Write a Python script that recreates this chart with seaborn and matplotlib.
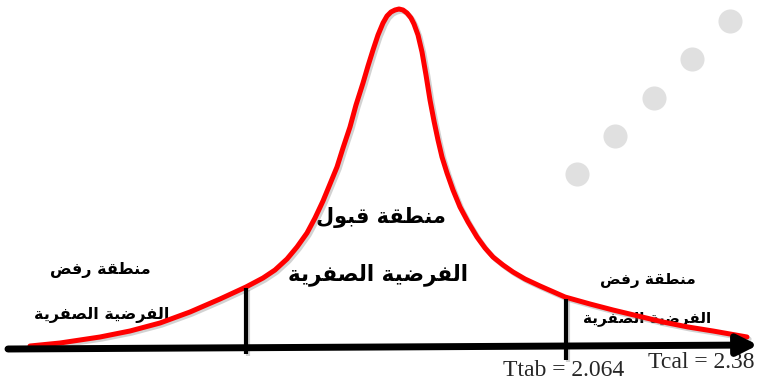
"""
Acceptance / rejection regions of a t-test drawn on a bell curve.
"""

import matplotlib

matplotlib.use("Agg")

import matplotlib.patheffects as pe
import matplotlib.pyplot as plt
import pandas as pd
import seaborn as sns


# ---------------------------------------------------------------------------
# Data (canvas units: x to the right, y upwards, 760 x 385)
# ---------------------------------------------------------------------------

curve_x = [30, 60, 100, 130, 160, 190, 220, 246, 263, 275, 287, 297, 307,
           315, 323, 330, 337, 343, 350, 356, 363, 368, 373, 378, 383, 387,
           391, 395, 399, 403, 407, 411, 414, 418, 422, 426, 430, 434, 438,
           442, 447, 453, 460, 468, 477, 485, 493, 503, 513, 525, 540, 565,
           590, 613, 638, 663, 688, 713, 747]
curve_y = [39, 42, 48, 54, 62, 73, 86, 98, 107, 115, 126, 138, 152,
           167, 184, 201, 218, 237, 258, 280, 302, 319, 335, 350, 362, 369,
           373, 375, 376, 375, 372, 367, 361, 350, 333, 310, 285, 264, 245,
           228, 212, 195, 178, 163, 148, 137, 128, 120, 113, 106, 99, 88,
           81, 75, 69, 63, 58, 54, 48]

axis_start = (8, 36)
axis_end = (758, 40)

ttab_x = 246
ttab_span = (31, 97)
tcal_x = 566
tcal_span = (25, 86)

ttab_label = "Ttab = 2.064"
tcal_label = "Tcal = 2.38"

accept_lines = ["منطقة قبول", "الفرضية الصفرية"]
reject_lines = ["منطقة رفض", "الفرضية الصفرية"]

watermark_x = [577, 615, 654, 692, 730]
watermark_y = [211, 249, 287, 326, 364]


# ---------------------------------------------------------------------------
# Minimal Arabic shaping (presentation forms, right-to-left)
# ---------------------------------------------------------------------------

# isolated, final, initial, medial
ARABIC_FORMS = {
    "ا": ("\uFE8D", "\uFE8E", None, None),
    "ب": ("\uFE8F", "\uFE90", "\uFE91", "\uFE92"),
    "ة": ("\uFE93", "\uFE94", None, None),
    "ر": ("\uFEAD", "\uFEAE", None, None),
    "ص": ("\uFEB9", "\uFEBA", "\uFEBB", "\uFEBC"),
    "ض": ("\uFEBD", "\uFEBE", "\uFEBF", "\uFEC0"),
    "ط": ("\uFEC1", "\uFEC2", "\uFEC3", "\uFEC4"),
    "ف": ("\uFED1", "\uFED2", "\uFED3", "\uFED4"),
    "ق": ("\uFED5", "\uFED6", "\uFED7", "\uFED8"),
    "ل": ("\uFEDD", "\uFEDE", "\uFEDF", "\uFEE0"),
    "م": ("\uFEE1", "\uFEE2", "\uFEE3", "\uFEE4"),
    "ن": ("\uFEE5", "\uFEE6", "\uFEE7", "\uFEE8"),
    "و": ("\uFEED", "\uFEEE", None, None),
    "ي": ("\uFEF1", "\uFEF2", "\uFEF3", "\uFEF4"),
}


def shape_arabic(text: str) -> str:
    """Return text in joined presentation forms, ordered for LTR drawing."""
    shaped = []
    for i, ch in enumerate(text):
        if ch not in ARABIC_FORMS:
            shaped.append(ch)
            continue
        prev = text[i - 1] if i > 0 else ""
        nxt = text[i + 1] if i + 1 < len(text) else ""
        iso, fin, ini, med = ARABIC_FORMS[ch]
        join_prev = prev in ARABIC_FORMS and ARABIC_FORMS[prev][2] is not None
        join_next = ini is not None and nxt in ARABIC_FORMS
        if join_prev and join_next:
            shaped.append(med)
        elif join_prev:
            shaped.append(fin)
        elif join_next:
            shaped.append(ini)
        else:
            shaped.append(iso)
    return "".join(reversed(shaped))


# ---------------------------------------------------------------------------
# Plot
# ---------------------------------------------------------------------------

sns.set_theme(style="white")
plt.rcParams["font.family"] = ["DejaVu Sans"]

fig = plt.figure(figsize=(7.6, 3.85), dpi=100)
ax = fig.add_axes([0, 0, 1, 1])
ax.set_xlim(0, 760)
ax.set_ylim(0, 385)
ax.axis("off")

# watermark dots
sns.scatterplot(
    x=watermark_x,
    y=watermark_y,
    s=300,
    color="#e0e0e0",
    linewidth=0,
    ax=ax,
    zorder=0,
)

shadow = [
    pe.SimpleLineShadow(offset=(1.5, -1.5), shadow_color="gray", alpha=0.35),
    pe.Normal(),
]

# region labels
arabic_font = dict(family=["DejaVu Sans"], weight="bold", color="black",
                   ha="center", va="center", zorder=2)
ax.text(381, 167, shape_arabic(accept_lines[0]), fontsize=15, **arabic_font)
ax.text(378, 110, shape_arabic(accept_lines[1]), fontsize=15.5, **arabic_font)
ax.text(100, 115, shape_arabic(reject_lines[0]), fontsize=11.5, **arabic_font)
ax.text(102, 70, shape_arabic(reject_lines[1]), fontsize=11.5, **arabic_font)
ax.text(648, 105, shape_arabic(reject_lines[0]), fontsize=11, **arabic_font)
ax.text(647, 67, shape_arabic(reject_lines[1]), fontsize=11, **arabic_font)

# bell curve
curve = pd.DataFrame({"x": curve_x, "y": curve_y})
sns.lineplot(
    data=curve,
    x="x",
    y="y",
    sort=False,
    color="#ff0000",
    linewidth=3.6,
    ax=ax,
    zorder=3,
    path_effects=shadow,
)
ax.lines[-1].set_solid_joinstyle("round")

# critical value markers
for xpos, (y0, y1) in [(ttab_x, ttab_span), (tcal_x, tcal_span)]:
    ax.plot([xpos, xpos], [y0, y1], color="black", linewidth=3.0,
            solid_capstyle="butt", zorder=4, path_effects=shadow)

# horizontal axis with arrow
ax.annotate(
    "",
    xy=axis_end,
    xytext=axis_start,
    arrowprops=dict(
        arrowstyle="-|>",
        color="black",
        linewidth=5,
        mutation_scale=30,
        shrinkA=0,
        shrinkB=0,
    ),
    zorder=5,
)

ax.text(503, 14, ttab_label, fontsize=17, family=["Liberation Serif"],
        ha="left", va="center")
ax.text(755, 22, tcal_label, fontsize=17, family=["Liberation Serif"],
        ha="right", va="center")

fig.savefig("out.png", dpi=100)
